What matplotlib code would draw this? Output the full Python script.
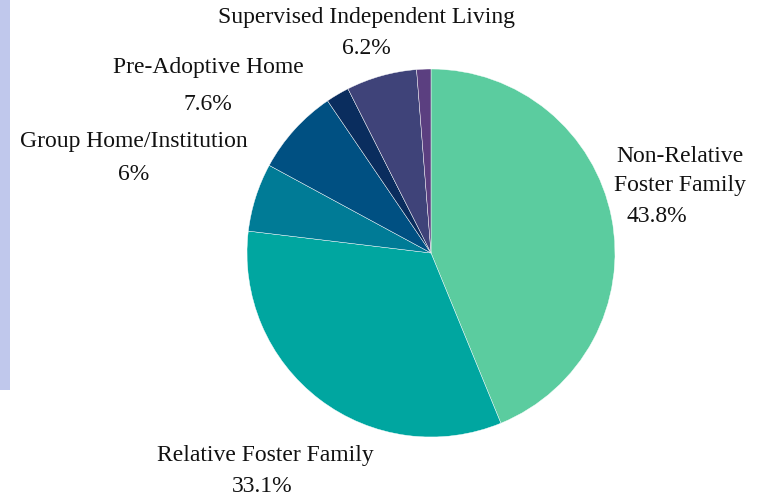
import matplotlib.pyplot as plt
from matplotlib.patches import Rectangle

# data
categories = ["Non-Relative Foster Family", "Relative Foster Family", "Group Home/Institution",
              "Pre-Adoptive Home", "Other (unlabeled)", "Supervised Independent Living",
              "Other 2 (unlabeled)"]
values = [43.8, 33.1, 6.0, 7.6, 2.05, 6.2, 1.25]
colors = ["#5bcc9f", "#00a6a0", "#007b96", "#005082", "#0a2d5e", "#3f4379", "#5b3f80"]

W, H = 767, 498
fig = plt.figure(figsize=(W / 100, H / 100), dpi=100)
plt.rcParams["font.family"] = ["Liberation Serif", "DejaVu Serif"]

# lavender strip on the left edge
fig.patches.append(Rectangle((0, 1 - 390 / H), 10 / W, 390 / H, transform=fig.transFigure,
                             facecolor="#c0c8ec", edgecolor="none"))

cx, cy, r = 431, 253, 184
ax = fig.add_axes([(cx - r) / W, (H - cy - r) / H, 2 * r / W, 2 * r / H])
ax.pie(values, colors=colors, startangle=90, counterclock=False, radius=1,
       wedgeprops=dict(edgecolor="white", linewidth=0.3))
ax.set_xlim(-1, 1)
ax.set_ylim(-1, 1)
ax.axis("off")


def label(x, y, s, **kw):
    fig.text(x / W, 1 - y / H, s, ha="center", va="center", fontsize=17, color="#111111", **kw)


label(366, 18, "Supervised Independent Living")
label(366, 49, "6.2%")
label(208, 68, "Pre-Adoptive Home")
label(208, 104, "7.6%")
label(134, 142, "Group Home/Institution")
label(134, 175, "6%")
label(680, 156, "Non-Relative")
label(680, 186, "Foster Family")
label(657, 216, "43.8%")
label(265, 455, "Relative Foster Family")
label(262, 486, "33.1%")

fig.savefig("out.png", dpi=100)
